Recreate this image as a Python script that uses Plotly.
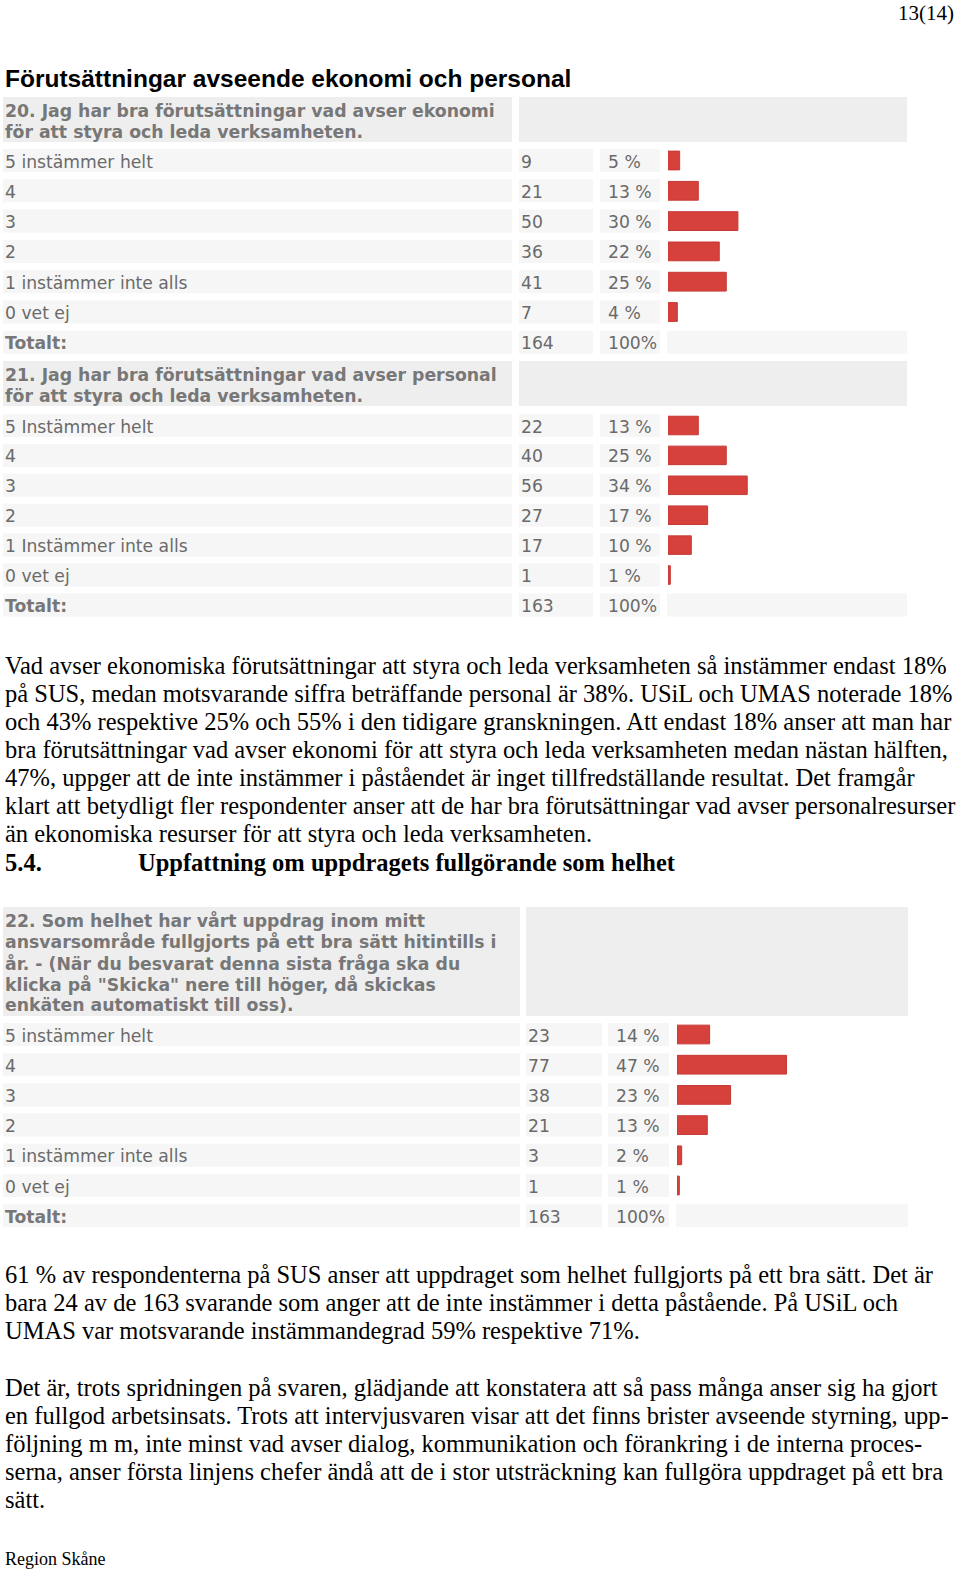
import plotly.graph_objects as go

W, H = 960, 1571

# ---------------- data ----------------
page_number = "13(14)"
section_title = "Förutsättningar avseende ekonomi och personal"

q20_header = ["20. Jag har bra förutsättningar vad avser ekonomi",
              "för att styra och leda verksamheten."]
q20_labels = ["5 instämmer helt", "4", "3", "2", "1 instämmer inte alls", "0 vet ej"]
q20_counts = [9, 21, 50, 36, 41, 7]
q20_pct = [5, 13, 30, 22, 25, 4]
q20_total = 164

q21_header = ["21. Jag har bra förutsättningar vad avser personal",
              "för att styra och leda verksamheten."]
q21_labels = ["5 Instämmer helt", "4", "3", "2", "1 Instämmer inte alls", "0 vet ej"]
q21_counts = [22, 40, 56, 27, 17, 1]
q21_pct = [13, 25, 34, 17, 10, 1]
q21_total = 163

q22_header = ["22. Som helhet har vårt uppdrag inom mitt",
              "ansvarsområde fullgjorts på ett bra sätt hitintills i",
              "år. - (När du besvarat denna sista fråga ska du",
              "klicka på \"Skicka\" nere till höger, då skickas",
              "enkäten automatiskt till oss)."]
q22_labels = ["5 instämmer helt", "4", "3", "2", "1 instämmer inte alls", "0 vet ej"]
q22_counts = [23, 77, 38, 21, 3, 1]
q22_pct = [14, 47, 23, 13, 2, 1]
q22_total = 163

total_label = "Totalt:"

para1 = [
    "Vad avser ekonomiska förutsättningar att styra och leda verksamheten så instämmer endast 18%",
    "på SUS, medan motsvarande siffra beträffande personal är 38%. USiL och UMAS noterade 18%",
    "och 43% respektive 25% och 55% i den tidigare granskningen. Att endast 18% anser att man har",
    "bra förutsättningar vad avser ekonomi för att styra och leda verksamheten medan nästan hälften,",
    "47%, uppger att de inte instämmer i påståendet är inget tillfredställande resultat. Det framgår",
    "klart att betydligt fler respondenter anser att de har bra förutsättningar vad avser personalresurser",
    "än ekonomiska resurser för att styra och leda verksamheten.",
]
heading_num = "5.4."
heading_text = "Uppfattning om uppdragets fullgörande som helhet"
para2 = [
    "61 % av respondenterna på SUS anser att uppdraget som helhet fullgjorts på ett bra sätt. Det är",
    "bara 24 av de 163 svarande som anger att de inte instämmer i detta påstående. På USiL och",
    "UMAS var motsvarande instämmandegrad 59% respektive 71%.",
]
para3 = [
    "Det är, trots spridningen på svaren, glädjande att konstatera att så pass många anser sig ha gjort",
    "en fullgod arbetsinsats. Trots att intervjusvaren visar att det finns brister avseende styrning, upp-",
    "följning m m, inte minst vad avser dialog, kommunikation och förankring i de interna proces-",
    "serna, anser första linjens chefer ändå att de i stor utsträckning kan fullgöra uppdraget på ett bra",
    "sätt.",
]
footer = "Region Skåne"

# ---------------- style ----------------
HEAD_BG = "#eeeeee"
CELL_BG = "#f6f6f6"
CELL_TXT = "#6a6a6a"
HEAD_TXT = "#777777"
BAR = "#d6413b"
BAR_LINE = "#c43a36"
SANS = "DejaVu Sans"
SERIF = "Liberation Serif"
CELL_FS = 17.2
HEAD_FS = 17.3
BODY_FS = 24.5

fig = go.Figure()
shapes = []
annots = []


def rect(x0, y0, x1, y1, color):
    shapes.append(dict(type="rect", xref="x", yref="y", x0=x0, x1=x1, y0=y0, y1=y1,
                       fillcolor=color, line=dict(width=0), layer="below"))


def text(x, y, s, size, color="#000000", family=SERIF, bold=False, anchor="left"):
    if bold:
        s = "<b>" + s + "</b>"
    annots.append(dict(x=x, y=y, xref="x", yref="y", text=s, showarrow=False,
                       xanchor=anchor, yanchor="middle", borderpad=0,
                       font=dict(size=size, color=color, family=family)))


def table(idx, header, labels, counts, pct, total, head_top, head_bot, row_top, pitch,
          left_end, cnt_x0, cnt_x1, pct_x0, pct_x1, bar_x0, bar_x1, head_line_pitch):
    rect(3, head_top, left_end, head_bot, HEAD_BG)
    rect(cnt_x0, head_top, bar_x1, head_bot, HEAD_BG)
    n = len(header)
    h_mid = (head_top + head_bot) / 2 + 1.5
    for i, line in enumerate(header):
        text(4, h_mid + (i - (n - 1) / 2) * head_line_pitch, line, HEAD_FS, HEAD_TXT, SANS, bold=True)
    cell_h = 23
    rows = list(zip(labels, counts, pct)) + [(total_label, total, None)]
    for i, (lab, c, p) in enumerate(rows):
        t = row_top + i * pitch
        rect(3, t, left_end, t + cell_h, CELL_BG)
        rect(cnt_x0, t, cnt_x1, t + cell_h, CELL_BG)
        rect(pct_x0, t, pct_x1, t + cell_h, CELL_BG)
        ym = t + cell_h / 2 + 1
        is_total = p is None
        text(4, ym, lab, CELL_FS, HEAD_TXT if is_total else CELL_TXT, SANS, bold=is_total)
        text(cnt_x0 + 1, ym, str(c), CELL_FS, CELL_TXT, SANS)
        text(pct_x0 + 7, ym, "100%" if is_total else f"{p} %", CELL_FS, CELL_TXT, SANS)
        if is_total:
            rect(bar_x0 - 1, t, bar_x1, t + cell_h, CELL_BG)
    xa = f"x{idx}"
    ya = f"y{idx}"
    top_px = row_top + cell_h / 2 - pitch / 2
    bot_px = top_px + len(labels) * pitch
    fig.add_trace(go.Bar(x=pct, y=labels, orientation="h", xaxis=xa, yaxis=ya,
                         marker=dict(color=BAR, line=dict(color=BAR_LINE, width=1)),
                         width=0.62, hoverinfo="skip", showlegend=False))
    scale = 2.33
    fig.update_layout(**{
        f"xaxis{idx}": dict(domain=[bar_x0 / W, (bar_x0 + 100 * scale) / W],
                            range=[0, 100], visible=False, anchor=ya, fixedrange=True),
        f"yaxis{idx}": dict(domain=[1 - bot_px / H, 1 - top_px / H],
                            type="category", categoryorder="array", categoryarray=labels,
                            range=[len(labels) - 0.5, -0.5], visible=False, anchor=xa,
                            fixedrange=True),
    })


text(955, 13, page_number, 21, anchor="right")
text(4, 78, section_title, 24.5, "#000000", "Liberation Sans", bold=True)

table(2, q20_header, q20_labels, q20_counts, q20_pct, q20_total,
      97, 142, 149, 30.3, 512, 519, 593, 600, 660, 668, 907, 21)
table(3, q21_header, q21_labels, q21_counts, q21_pct, q21_total,
      361, 406, 414, 29.9, 512, 519, 593, 600, 660, 668, 907, 21)
table(4, q22_header, q22_labels, q22_counts, q22_pct, q22_total,
      907, 1016, 1023, 30.2, 520, 526, 602, 608, 669, 677, 908, 21.2)

for i, line in enumerate(para1):
    text(4, 665 + i * 28.1, line, BODY_FS)
text(4, 862, heading_num, BODY_FS, bold=True)
text(137, 862, heading_text, BODY_FS, bold=True)
for i, line in enumerate(para2):
    text(4, 1274 + i * 28.1, line, BODY_FS)
for i, line in enumerate(para3):
    text(4, 1387 + i * 28.1, line, BODY_FS)
text(4, 1559, footer, 18)

fig.update_layout(
    width=W, height=H, margin=dict(l=0, r=0, t=0, b=0),
    paper_bgcolor="white", plot_bgcolor="rgba(0,0,0,0)",
    xaxis=dict(domain=[0, 1], range=[0, W], visible=False, fixedrange=True),
    yaxis=dict(domain=[0, 1], range=[H, 0], visible=False, fixedrange=True),
    shapes=shapes, annotations=annots, showlegend=False,
)

fig.write_html("out.html", config={"displayModeBar": False, "staticPlot": True},
               post_script="document.body.style.margin='0px';document.body.style.overflow='hidden';")
